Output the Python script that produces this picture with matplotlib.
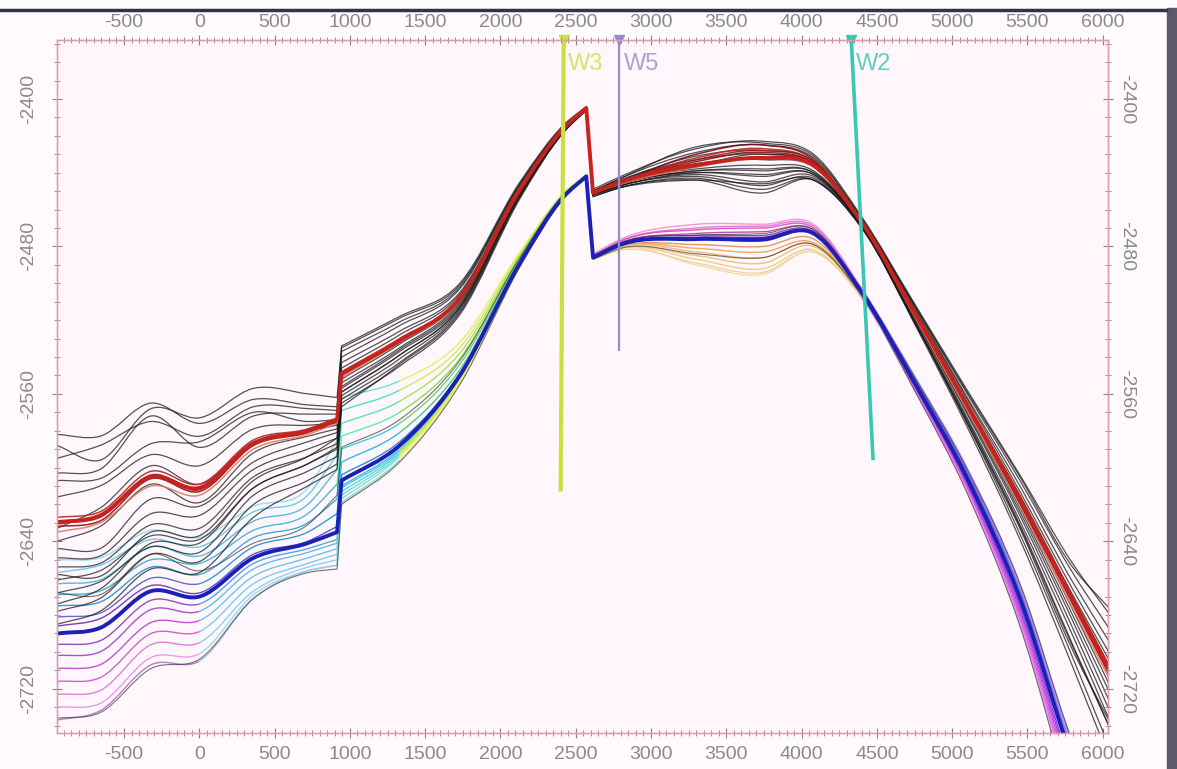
import matplotlib
matplotlib.use("Agg")
import matplotlib.pyplot as plt
import numpy as np
from matplotlib.ticker import MultipleLocator
from matplotlib.lines import Line2D
from matplotlib.patches import Rectangle, PathPatch
from matplotlib.path import Path

plt.rcParams['axes.unicode_minus'] = False

# distance along the section (m)
knots_x = [-945, -660, -320, 0, 360, 720, 915, 945, 1330, 1730, 2130, 2420,
           2570, 2615, 2800, 3300, 3750, 4080, 4400, 4750, 5100, 5450, 5800, 6040]
# knots on either side of the two fault throws (drawn with sharp corners)
fault_pairs = [(6, 7), (12, 13)]

# interpreted horizons (depth, m)
top_horizon = [-2630, -2626, -2605, -2611, -2587, -2580, -2574, -2549, -2531, -2508, -2449, -2416,
               -2405, -2451, -2445, -2436, -2432, -2436, -2467, -2516, -2566, -2617, -2672, -2709]
base_horizon = [-2690, -2687, -2667, -2670, -2649, -2641, -2635, -2607, -2588, -2550, -2489, -2453,
                -2442, -2486, -2479, -2476, -2476, -2473, -2505, -2554, -2606, -2671, -2759, -2808]

# top-horizon realisations: depth below the interpreted top (m)
top_real_offsets = [
    [-48, -43, -40, -35, -24, -14, -7, -15, -13, -8, -4, -2, -1, -2, -3, -9, -9, -6, -3, -5, -8, -13, -20, -30],
    [-42, -30, -37, -38, -30, -20, -12, -14, -12, -7, -3, -1, 0, -1, -2, -10, -8, -5, -2, -4, -7, -12, -18, -33],
    [-35, -38, -30, -28, -20, -12, -5, -12, -10, -6, -3, -1, 0, -1, -2, -7, -7, -4, -2, -4, -6, -10, -15, -22],
    [-27, -25, -33, -22, -15, -9, -3, -9, -8, -5, -2, -1, 0, -1, -1, -5, -4, -2, -1, -3, -4, -7, -10, -15],
    [-23, -20, -18, -25, -17, -5, 0, -6, -5, -3, -1, 0, 0, 0, -1, -3, -2, -1, -1, -2, -3, -4, -6, -9],
    [-14, -16, -12, -12, -8, -3, 2, -3, -3, -2, -1, 0, 0, 0, 0, -1, 1, 1, 0, -1, -1, -2, -3, -5],
    [3, -4, -6, -2, -1, 0, 3, 0, 1, 0, 0, 0, 0, 0, 0, 0, -2, 0, 0, 0, 0, -1, -1, -2],
    [10, 6, 4, 8, 5, 3, 5, 3, 2, 1, 0, 0, 0, 0, 0, 2, 4, 3, 1, 1, 2, 3, 5, 8],
    [14, 18, 12, 10, 10, 6, 7, 5, 4, 2, 1, 0, 0, 0, 1, 3, 7, 4, 1, 2, 3, 5, 8, 12],
    [19, 22, 20, 15, 14, 10, 10, 8, 6, 4, 2, 1, 0, 1, 1, 4, 10, 5, 2, 3, 4, 7, 11, 17],
    [24, 26, 26, 22, 18, 14, 13, 10, 8, 5, 3, 1, 1, 1, 2, 5, 13, 6, 2, 3, 5, 9, 15, 22],
    [31, 30, 32, 28, 24, 18, 16, 12, 10, 6, 3, 1, 1, 1, 2, 6, 15, 7, 2, 4, 7, 12, 19, 27],
    [38, 36, 38, 35, 28, 22, 20, 14, 12, 7, 4, 2, 1, 2, 3, 7, 17, 8, 3, 5, 9, 14, 24, 31],
    [48, 45, 42, 40, 33, 27, 24, 16, 14, 9, 5, 2, 1, 2, 3, 8, 19, 8, 3, 5, 10, 16, 27, 28],
    [55, 52, 50, 46, 40, 30, 27, 18, 13, 8, 4, 2, 1, 1, 3, 8, 14, 8, 3, 5, 8, 15, 25, 31],
    [44, 40, 36, 30, 24, 18, 15, 10, 8, 5, 2, 1, 0, 1, 2, 4, 9, 5, 2, 6, 12, 22, 36, 48],
    [28, 33, 30, 26, 20, 14, 10, 7, 5, 3, 1, 0, 0, 0, 1, 3, 6, 4, 2, 5, 10, 19, 31, 42],
]

# reddish realisations hugging the top horizon
red_real_offsets = [
    [2, 3, 1, 2, 1, 1, 1, 1, 1, 0, 0, 0, 0, 0, 0, -2, -3, -1, 0, 1, 1, 2, 2, 3],
    [-3, -2, -3, -2, -2, -1, -1, -1, -1, 0, 0, 0, 0, 0, 0, -4, -5, -2, 0, -1, -1, -1, -2, -2],
    [5, 4, 5, 4, 3, 2, 2, 2, 1, 1, 0, 0, 0, 0, 1, 1, 0, 1, 0, 2, 3, 4, 4, 5],
    [-1, 0, -1, 0, 0, 0, 0, 0, 0, 0, 0, 0, 0, 0, 0, -6, -7, -3, 0, 0, 0, 1, 1, 1],
    [0, 1, 0, 1, 0, 0, 0, 0, 0, 0, 0, 0, 0, 0, 0, -3, -4, -2, 0, 0, 1, 0, -1, 0],
]
red_real_colors = ['#8a1010', '#b02828', '#e07868', '#701010', '#a01818']

# base-horizon realisations: depth below the interpreted base (m)
base_real_offsets = [
    [-40, -38, -33, -32, -28, -30, -50, -45, -35, -18, -6, -2, -1, -2, -3, -8, -8, -5, -2, -4, -6, -8, -10, -12],
    [-33, -34, -28, -27, -25, -26, -42, -38, -30, -15, -5, -2, -1, -1, -2, -6, -7, -4, -2, -3, -5, -7, -8, -10],
    [-27, -26, -24, -22, -20, -21, -34, -31, -24, -12, -4, -1, 0, -1, -2, -5, -6, -3, -1, -3, -4, -5, -6, -8],
    [-21, -20, -17, -18, -15, -16, -26, -24, -18, -9, -3, -1, 0, -1, -1, -3, -4, -2, -1, -2, -3, -4, -4, -5],
    [-15, -14, -13, -12, -11, -11, -18, -17, -12, -6, -2, -1, 0, 0, -1, -2, -2, -1, 0, -1, -2, -2, -2, -3],
    [-9, -8, -7, -7, -6, -6, -10, -10, -7, -3, -1, 0, 0, 0, 0, -1, -1, 0, 0, -1, -1, -1, -1, -1],
    [-4, -5, -3, -2, -2, -1, -3, -3, -2, -1, 0, 0, 0, 0, 0, 0, 1, 0, 0, 0, 0, 1, 1, 2],
    [6, 7, 5, 4, 3, 3, 4, 3, 2, 1, 0, 0, 0, 0, 1, 3, 4, 3, 1, 1, 2, 4, 6, 8],
    [12, 13, 10, 8, 6, 5, 6, 4, 3, 1, 1, 0, 0, 0, 1, 5, 7, 5, 1, 2, 3, 6, 9, 12],
    [19, 20, 17, 13, 10, 8, 9, 6, 4, 2, 1, 0, 0, 0, 1, 7, 10, 6, 2, 2, 4, 8, 12, 16],
    [26, 27, 23, 19, 14, 11, 12, 8, 5, 3, 1, 0, 0, 1, 2, 9, 13, 7, 2, 3, 5, 10, 15, 20],
    [33, 34, 29, 25, 18, 13, 15, 10, 6, 3, 1, 0, 0, 1, 2, 11, 16, 9, 3, 3, 6, 12, 18, 25],
    [40, 41, 36, 31, 20, 15, 18, 12, 8, 4, 2, 1, 0, 1, 3, 13, 18, 10, 3, 4, 7, 13, 20, 27],
    [47, 45, 40, 35, 22, 15, 18, 12, 8, 4, 2, 1, 0, 1, 2, 14, 19, 10, 3, 4, 7, 14, 22, 30],
]
# colour of each base realisation in six stretches of the section
base_real_colors = [
    ['#8adcf2', '#8adcf2', '#60e0d0', '#e6ee58', '#f090d0', '#c0a8f0'],
    ['#5cc8ec', '#5cc8ec', '#40d8c8', '#c8ec50', '#e070c8', '#a890e8'],
    ['#40b8e0', '#40b8e0', '#48e0b0', '#a0e048', '#d050b8', '#9078e0'],
    ['#30a8d8', '#38b0e0', '#50e8a0', '#80d840', '#b040b0', '#7060d8'],
    ['#2090d0', '#30a0d8', '#30c8d8', '#60d060', '#9030a8', '#5048d0'],
    ['#5060c8', '#2090d0', '#20b0e0', '#40c080', '#7020a0', '#3030c0'],
    ['#6030b0', '#4048c0', '#2080d8', '#3070d0', '#6020a0', '#4020c0'],
    ['#8040c0', '#40a0e0', '#30b8e0', '#60c8a0', '#e09050', '#8030d0'],
    ['#a040c8', '#50b8e8', '#40c8e0', '#90d870', '#f0a048', '#a030d8'],
    ['#c040d0', '#60c0e8', '#50d0e0', '#b0e060', '#f0b860', '#c040e0'],
    ['#d050d0', '#70c8ec', '#60d8d8', '#d0e858', '#e8c070', '#d050e8'],
    ['#e070e0', '#80d0f0', '#70e0d0', '#e0ec60', '#f0c880', '#e060e8'],
    ['#e890e8', '#90d8f0', '#80e8c8', '#f0f070', '#f0d090', '#e880f0'],
    ['#b070c0', '#a0c0e0', '#90e0d0', '#f0f080', '#f0d8a0', '#f0a0f0'],
]
# knot ranges of the six stretches
stretches = [(0, 3), (3, 6), (6, 8), (8, 13), (13, 18), (18, 23)]

# grey realisations of the base
grey_base_offsets = [
    [46, 46, 42, 34, 22, 16, 20, 13, 9, 5, 2, 1, 0, 1, 2, 8, 10, 6, 2, 4, 8, 15, 24, 34],
    [-22, -18, -20, -14, -8, -10, -20, -18, -14, -8, -3, -1, 0, -1, -1, -2, -3, -2, -1, -3, -5, -8, -10, -12],
]

# wells
well_names = ['W3', 'W5', 'W2']
well_x_top = [2420, 2790, 4330]
well_x_bottom = [2400, 2790, 4475]
well_bottom = [-2613, -2537, -2596]
well_colors = ['#c8e040', '#9090d0', '#38c8b4']
well_label_colors = ['#d6e466', '#a4a4d8', '#5ccfc0']
well_widths = [3.0, 1.6, 2.6]

XLIM = (-945, 6035)
YLIM = (-2744, -2368)


def knot_slopes(x, y):
    """Hermite slopes at the knots; one-sided next to fault throws."""
    n = len(x)
    h = np.diff(x)
    d = np.diff(y) / h
    s = np.empty(n)
    s[0], s[-1] = d[0], d[-1]
    for i in range(1, n - 1):
        s[i] = (d[i - 1] * h[i] + d[i] * h[i - 1]) / (h[i - 1] + h[i])
    for a, b in fault_pairs:
        s[a] = d[a - 1]
        s[b] = d[b]
    return s


def curve_path(x, y, a=0, b=None):
    """Smooth cubic path through knots a..b, straight across fault throws."""
    x = np.asarray(x, float)
    y = np.asarray(y, float)
    if b is None:
        b = len(x) - 1
    s = knot_slopes(x, y)
    verts = [(x[a], y[a])]
    codes = [Path.MOVETO]
    for i in range(a, b):
        if (i, i + 1) in fault_pairs:
            verts.append((x[i + 1], y[i + 1]))
            codes.append(Path.LINETO)
            continue
        h = x[i + 1] - x[i]
        verts += [(x[i] + h / 3, y[i] + s[i] * h / 3),
                  (x[i + 1] - h / 3, y[i + 1] - s[i + 1] * h / 3),
                  (x[i + 1], y[i + 1])]
        codes += [Path.CURVE4] * 3
    return Path(verts, codes)


def draw_curve(ax, y, color, lw, alpha=1.0, z=2, a=0, b=None):
    ax.add_patch(PathPatch(curve_path(knots_x, y, a, b), fill=False, edgecolor=color,
                           lw=lw, alpha=alpha, zorder=z, joinstyle='round', capstyle='butt'))


fig = plt.figure(figsize=(11.77, 7.69), dpi=100, facecolor='#fffbfe')
ax = fig.add_axes([57 / 1177, 1 - 733 / 769, (1108 - 57) / 1177, (733 - 40) / 769])
ax.set_facecolor('#fff7fc')

top = np.asarray(top_horizon, dtype=float)
base = np.asarray(base_horizon, dtype=float)

for offs, cols in zip(base_real_offsets, base_real_colors):
    y = base - np.asarray(offs)
    for (a, b), c in zip(stretches, cols):
        draw_curve(ax, y, c, 1.0, 0.9, 2, a, b)

for offs in grey_base_offsets:
    draw_curve(ax, base - np.asarray(offs), '#3a3a3a', 0.8, 0.7, 2.5)

for offs in top_real_offsets:
    draw_curve(ax, top - np.asarray(offs), '#1a1a1a', 0.9, 0.75, 3)

for offs, c in zip(red_real_offsets, red_real_colors):
    draw_curve(ax, top - np.asarray(offs), c, 1.1, 0.9, 3.5)

draw_curve(ax, top, '#c8221c', 2.8, 1.0, 5)
draw_curve(ax, base, '#1a20b8', 2.8, 1.0, 5)

for name, xt, xb, yb, c, lc, w in zip(well_names, well_x_top, well_x_bottom, well_bottom,
                                      well_colors, well_label_colors, well_widths):
    ax.plot([xt, xb], [YLIM[1], yb], color=c, lw=w, zorder=6, solid_capstyle='butt')
    ax.plot([xt], [YLIM[1]], marker='v', ms=7, color=c, zorder=7, clip_on=False)
    ax.text(xt + 30, -2381, name, color=lc, fontsize=17, ha='left', va='center',
            family=['Liberation Sans', 'DejaVu Sans'], zorder=7)

ax.set_xlim(*XLIM)
ax.set_ylim(*YLIM)

tick_family = ['Liberation Sans Narrow', 'Liberation Sans', 'DejaVu Sans']
tick_size = 14
tick_color = '#9a7c80'
label_color = '#8a8a8a'


def style_labels(labels, **kw):
    for lab in labels:
        lab.set_fontfamily(tick_family)
        lab.set_fontsize(tick_size)
        for k, v in kw.items():
            getattr(lab, 'set_' + k)(v)


ax.xaxis.set_major_locator(MultipleLocator(500))
ax.xaxis.set_minor_locator(MultipleLocator(50))
ax.yaxis.set_major_locator(MultipleLocator(80))
ax.yaxis.set_minor_locator(MultipleLocator(10))
ax.tick_params(axis='x', which='both', top=True, bottom=True, labeltop=False, labelbottom=True,
               direction='inout', colors=tick_color, labelcolor=label_color, pad=6)
ax.tick_params(axis='y', which='both', left=True, right=True, labelleft=True, labelright=False,
               direction='inout', colors=tick_color, labelcolor=label_color, pad=11,
               labelrotation=90)
ax.tick_params(which='major', length=7, width=0.8)
ax.tick_params(which='minor', length=4, width=0.6)
style_labels(ax.get_xticklabels())
style_labels(ax.get_yticklabels(), verticalalignment='center')

# distance labels along the top edge
axt = ax.twiny()
axt.set_xlim(*XLIM)
axt.xaxis.set_major_locator(MultipleLocator(500))
axt.xaxis.set_minor_locator(MultipleLocator(50))
axt.tick_params(axis='x', which='both', top=True, labeltop=True, direction='inout',
                colors=tick_color, labelcolor=label_color, pad=3)
axt.tick_params(which='major', length=7, width=0.8)
axt.tick_params(which='minor', length=4, width=0.6)
style_labels(axt.get_xticklabels())

# depth labels on the right, reading top to bottom
axr = ax.twinx()
axr.set_ylim(*YLIM)
axr.yaxis.set_major_locator(MultipleLocator(80))
axr.yaxis.set_minor_locator(MultipleLocator(10))
axr.tick_params(axis='y', which='both', right=True, labelright=True, direction='inout',
                colors=tick_color, labelcolor=label_color, pad=4, labelrotation=-90)
axr.tick_params(which='major', length=7, width=0.8)
axr.tick_params(which='minor', length=4, width=0.6)
style_labels(axr.get_yticklabels(), verticalalignment='center')

for a in (ax, axt, axr):
    for s in a.spines.values():
        s.set_color('#dba0a8')
        s.set_linewidth(0.9)

# window frame around the plot
fig.add_artist(Line2D([0, 1166 / 1177], [1 - 10 / 769, 1 - 10 / 769], color='#33334a', lw=2.5,
                      transform=fig.transFigure))
fig.add_artist(Rectangle((1167 / 1177, 0), 10 / 1177, 1 - 8 / 769, color='#5a5a68',
                         transform=fig.transFigure))

fig.savefig('out.png', dpi=100, facecolor=fig.get_facecolor())
